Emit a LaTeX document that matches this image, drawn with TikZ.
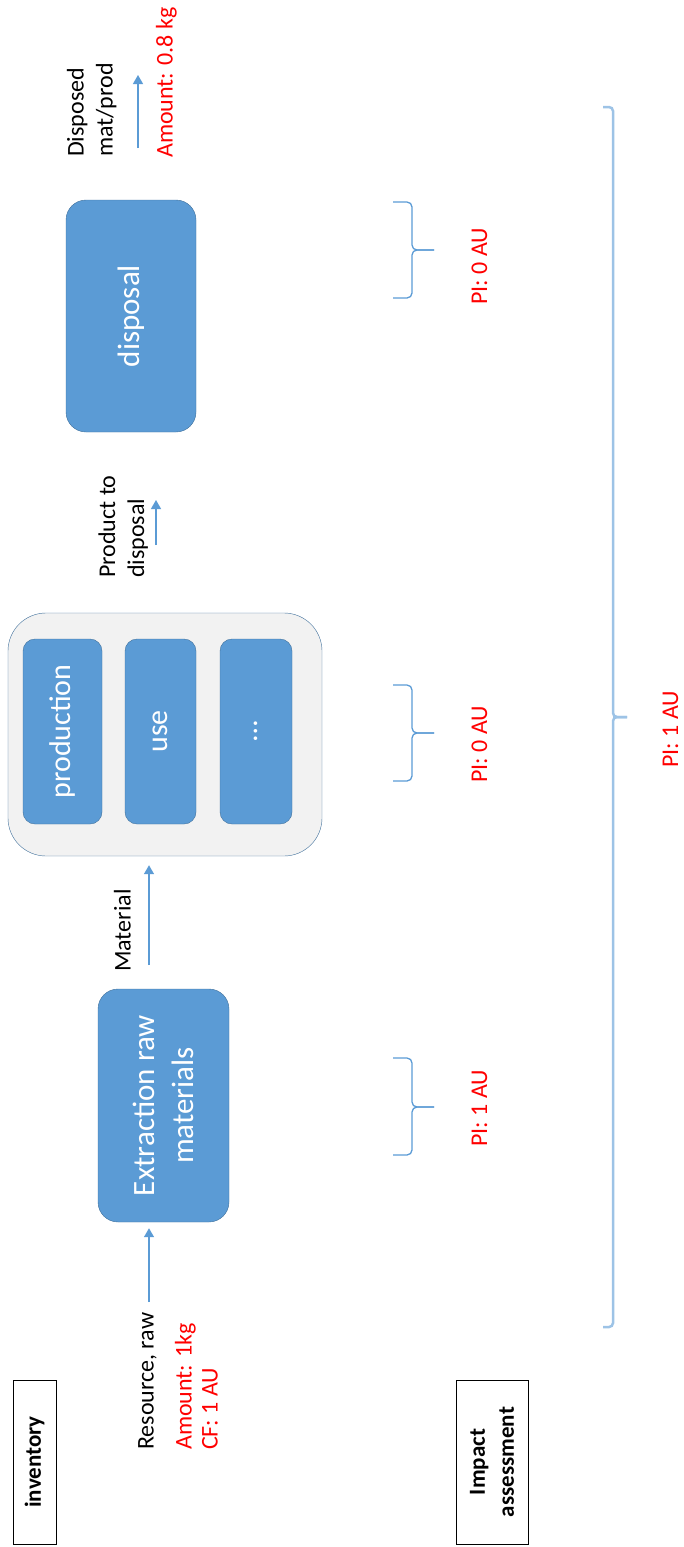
\documentclass[tikz,border=0pt]{standalone}
\usepackage{fontspec}
\setmainfont{Carlito}
\usetikzlibrary{arrows.meta}
\definecolor{LCABlue}{HTML}{5B9BD5}
\definecolor{LCAEdge}{HTML}{41719C}
\definecolor{LCALightBlue}{HTML}{9DC3E6}
\definecolor{LCAGray}{HTML}{F2F2F2}
\definecolor{LCARed}{HTML}{FF0000}
\tikzset{
  stage/.style={draw=LCAEdge, fill=LCABlue, text=white, rotate=90, align=center,
    inner sep=0pt, rounded corners=20pt, font=\fontsize{31}{39}\selectfont},
  substage/.style={stage, rounded corners=12pt, minimum width=185pt,
    font=\fontsize{30}{36}\selectfont},
  header/.style={draw=black, line width=1pt, rotate=90, align=center, inner sep=0pt,
    minimum width=164pt, font=\bfseries\fontsize{23}{29}\selectfont},
  flowlabel/.style={rotate=90, anchor=base west, inner sep=0pt,
    font=\fontsize{24}{29}\selectfont},
  amount/.style={flowlabel, text=LCARed},
  flow/.style={draw=LCABlue, line width=1.3pt, -{Triangle[length=9pt,width=10pt]}},
  lcabrace/.style={draw=LCABlue, line width=1.3pt, rounded corners=5pt},
}

\begin{document}
\begin{tikzpicture}[x=1pt, y=-1pt]
  \useasboundingbox (0,0) rectangle (684,1547);
  % headers
  \node[header, minimum height=43pt] at (34.5,1462) (inv) {inventory};
  \node[header, minimum height=72pt] at (492,1462) (ia) {Impact\\assessment};
  % life cycle stages
  \node[stage, minimum width=233pt, minimum height=131pt] at (163.5,1105.5) (extraction) {Extraction raw\\materials};
  \node[draw=LCAEdge, fill=LCAGray, rounded corners=38pt, minimum width=314pt, minimum height=243pt] at (165,734.5) (group) {};
  \node[substage, minimum height=79pt] at (62.5,731.5) (production) {production};
  \node[substage, minimum height=71pt] at (160.5,731.5) (use) {use};
  \node[substage, minimum height=72pt] at (256,731.5) (more) {…};
  \node[stage, minimum width=232pt, minimum height=130pt] at (131,316) (disposal) {disposal};
  % flows
  \coordinate (restail) at (149,1302);
  \coordinate (mattail) at (149,965);
  \coordinate (prodtail) at (156,545);
  \coordinate (prodhead) at (156,500);
  \coordinate (distail) at (138,148);
  \coordinate (dishead) at (138,75);
  \draw[flow, shorten >=6pt] (restail) -- (extraction.west -| restail);
  \draw[flow, shorten >=9pt] (mattail) -- (group.south -| mattail);
  \draw[flow] (prodtail) -- (prodhead);
  \draw[flow] (distail) -- (dishead);
  \node[flowlabel] at (153.5,1450) (resource) {Resource, raw};
  \node[amount] at (191.5,1450) (resamount) {Amount: 1kg};
  \node[amount] at (217.5,1450) (rescf) {CF: 1 AU};
  \node[flowlabel] at (130.5,972) (material) {Material};
  \node[flowlabel] at (115,578) (prodlbl) {Product to};
  \node[flowlabel] at (144,578) (prodlbltwo) {disposal};
  \node[flowlabel] at (83.5,157) (dislbl) {Disposed};
  \node[flowlabel] at (112.5,157) (dislbltwo) {mat/prod};
  \node[amount] at (172.5,158) (disamount) {Amount: 0.8 kg};
  % impact per stage
  \foreach \yt/\ym/\yb/\val/\ys [count=\i] in {202/250/298/0/305, 685/733/781/0/783, 1058/1107/1155/1/1147} {
    \draw[lcabrace] (393,\yt) -- (412,\yt) -- (412,\ym) -- (434,\ym);
    \draw[lcabrace] (393,\yb) -- (412,\yb) -- (412,\ym) -- (434,\ym);
    \node[amount] at (487,\ys) (pi\i) {PI: \val\ AU};
  }
  % total impact
  \draw[lcabrace, draw=LCALightBlue, line width=2.5pt, rounded corners=4pt] (603,107) -- (613,107) -- (613,717) -- (627,717);
  \draw[lcabrace, draw=LCALightBlue, line width=2.5pt, rounded corners=4pt] (603,1327) -- (613,1327) -- (613,717) -- (627,717);
  \node[amount] at (678,768) (pitotal) {PI: 1 AU};
\end{tikzpicture}
\end{document}
